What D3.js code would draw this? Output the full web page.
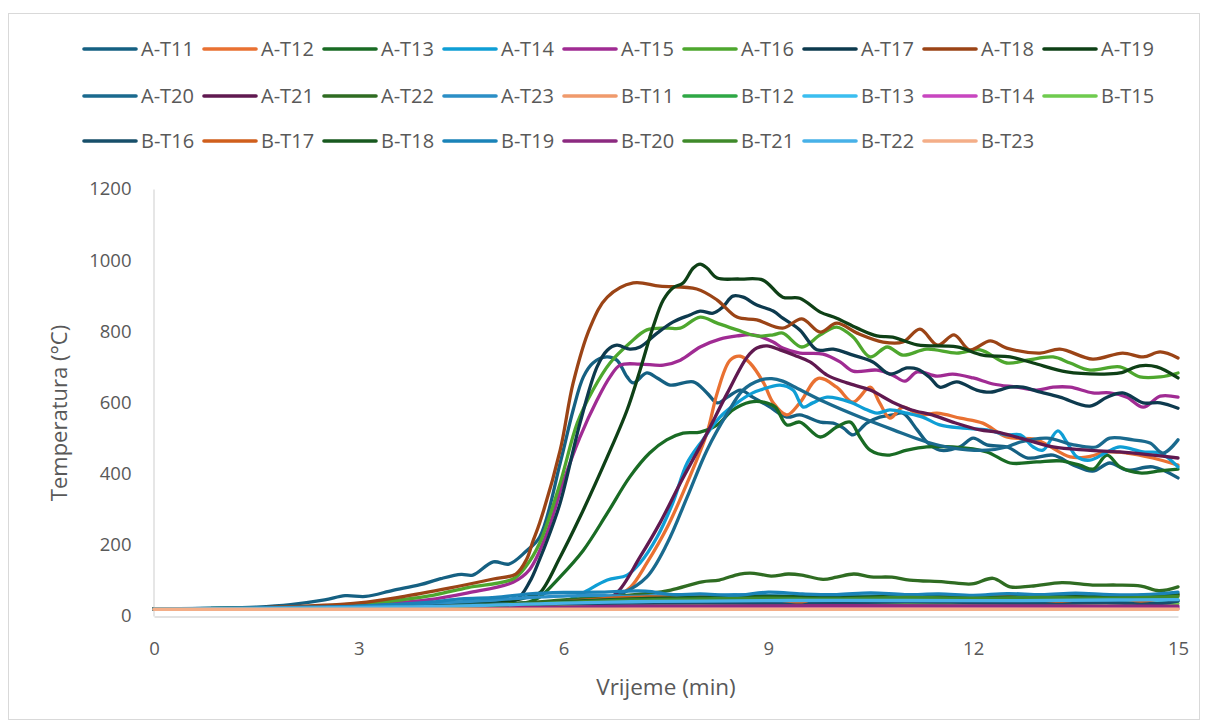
<!DOCTYPE html>
<html>
<head>
<meta charset="utf-8">
<script src="https://cdn.jsdelivr.net/npm/d3@7"></script>
<style>
  html, body { margin: 0; padding: 0; background: #fff; }
  svg { display: block; }
  text { font-family: "Open Sans", "Liberation Sans", Arial, sans-serif; fill: #595959; }
</style>
</head>
<body>
<svg id="chart" width="1208" height="727"></svg>
<script>
// ---------------- DATA (time in min, temperature in °C) ----------------
const seriesNames = ["A-T11","A-T12","A-T13","A-T14","A-T15","A-T16","A-T17","A-T18","A-T19",
  "A-T20","A-T21","A-T22","A-T23","B-T11","B-T12","B-T13","B-T14","B-T15",
  "B-T16","B-T17","B-T18","B-T19","B-T20","B-T21","B-T22","B-T23"];

const xTicks = [0, 3, 6, 9, 12, 15];
const yTicks = [0, 200, 400, 600, 800, 1000, 1200];

const A_T11 = [[0,20],[1,22],[1.5,25],[2,32],[2.5,45],[2.8,57],[3.1,55],[3.5,72],[3.9,88],[4.2,105],[4.5,117],[4.67,115],[4.97,152],[5.2,146],[5.45,182],[5.65,222],[5.95,430],[6.14,579],[6.29,672],[6.43,711],[6.63,728],[6.78,719],[6.93,672],[7.02,655],[7.22,683],[7.37,669],[7.56,649],[7.9,658],[8.1,627],[8.25,599],[8.4,615],[8.59,635],[8.77,615],[9.0,590],[9.27,559],[9.46,565],[9.76,545],[9.95,542],[10.1,528],[10.24,509],[10.44,542],[10.63,559],[10.82,565],[10.97,570],[11.18,523],[11.32,489],[11.51,466],[11.8,475],[12.0,500],[12.2,481],[12.5,475],[12.8,444],[13.17,452],[13.47,424],[13.75,407],[14.0,430],[14.25,410],[14.63,419],[15,388]];
const A_T12 = [[0,20],[2,22],[4,28],[5,33],[6,40],[6.5,45],[6.74,53],[6.98,81],[7.22,149],[7.52,250],[7.81,374],[8.1,514],[8.25,627],[8.44,719],[8.59,730],[8.73,711],[8.93,655],[9.07,599],[9.27,565],[9.46,599],[9.73,668],[10.0,643],[10.24,601],[10.49,643],[10.63,599],[10.78,556],[10.97,587],[11.22,565],[11.47,570],[11.81,556],[12.14,542],[12.49,503],[12.93,495],[13.42,447],[13.67,447],[13.96,461],[14.25,458],[14.63,444],[15,424]];
const A_T13 = [[0,20],[3,24],[5,32],[5.5,40],[5.65,53],[5.95,110],[6.29,185],[6.64,289],[6.97,391],[7.26,458],[7.51,495],[7.75,514],[8.0,517],[8.25,537],[8.48,579],[8.73,601],[8.93,601],[9.1,587],[9.27,537],[9.46,545],[9.76,503],[10.0,531],[10.2,545],[10.34,503],[10.49,466],[10.74,452],[11.03,466],[11.32,475],[11.7,475],[12.2,461],[12.54,430],[12.93,433],[13.27,436],[13.56,424],[13.76,413],[13.96,452],[14.15,419],[14.44,402],[14.74,408],[15,413]];
const A_T14 = [[0,20],[3,23],[5,30],[6,40],[6.28,65],[6.64,101],[6.93,115],[7.12,149],[7.37,222],[7.6,318],[7.81,430],[8.04,495],[8.29,559],[8.54,599],[8.77,627],[8.88,635],[9.17,649],[9.36,635],[9.51,587],[9.65,599],[9.86,615],[10.2,601],[10.39,584],[10.59,570],[10.78,579],[11.03,570],[11.26,559],[11.51,537],[11.85,528],[12.2,523],[12.49,509],[12.69,509],[12.88,475],[13.02,466],[13.24,520],[13.37,489],[13.52,447],[13.71,438],[13.96,461],[14.15,475],[14.49,461],[14.74,458],[15,419]];
const A_T15 = [[0,20],[2,23],[3,30],[4,45],[4.6,65],[5.26,95],[5.5,130],[5.75,230],[6.0,380],[6.24,503],[6.49,607],[6.68,672],[6.83,705],[7.12,708],[7.46,705],[7.71,719],[8.0,756],[8.29,778],[8.54,787],[8.78,790],[9.07,770],[9.21,753],[9.46,739],[9.8,736],[10.05,714],[10.24,688],[10.59,691],[10.82,677],[11.0,660],[11.18,686],[11.47,674],[11.7,680],[12.0,669],[12.29,652],[12.64,643],[12.93,635],[13.17,643],[13.42,643],[13.75,627],[14.0,627],[14.25,615],[14.49,587],[14.74,618],[15,615]];
const A_T16 = [[0,20],[2,25],[3,35],[3.6,45],[4.1,59],[4.6,80],[5.26,104],[5.45,140],[5.65,205],[5.95,374],[6.2,542],[6.43,635],[6.68,711],[6.97,767],[7.22,804],[7.52,809],[7.71,809],[8.0,840],[8.25,823],[8.54,804],[8.83,787],[9.07,790],[9.21,795],[9.49,756],[9.76,790],[10.0,812],[10.24,784],[10.49,728],[10.74,756],[10.97,733],[11.32,750],[11.76,739],[12.1,748],[12.49,711],[12.79,719],[13.17,728],[13.42,711],[13.71,691],[14.15,700],[14.44,672],[14.74,672],[15,683]];
const A_T17 = [[0,20],[2,22],[3,27],[4,31],[4.7,35],[5.3,45],[5.5,95],[5.65,160],[5.76,213],[5.95,318],[6.24,542],[6.49,700],[6.64,747],[6.78,761],[6.97,750],[7.12,756],[7.37,795],[7.6,826],[7.85,846],[8.0,857],[8.19,851],[8.33,868],[8.48,899],[8.63,896],[8.83,874],[9.07,857],[9.21,837],[9.46,804],[9.71,748],[9.95,750],[10.24,733],[10.53,714],[10.78,680],[11.03,697],[11.18,694],[11.37,669],[11.51,643],[11.76,658],[12.05,635],[12.25,629],[12.54,643],[12.73,643],[12.93,632],[13.27,615],[13.71,590],[13.96,615],[14.19,627],[14.49,599],[14.74,599],[15,584]];
const A_T18 = [[0,20],[1,21],[2,26],[3,37],[3.6,53],[4.34,79],[4.97,104],[5.3,118],[5.46,160],[5.55,210],[5.65,262],[5.95,466],[6.14,655],[6.39,812],[6.64,896],[7.02,936],[7.41,927],[7.95,919],[8.25,888],[8.54,840],[8.83,832],[9.21,809],[9.49,835],[9.76,798],[10.0,823],[10.3,795],[10.68,770],[10.97,770],[11.22,806],[11.48,761],[11.72,790],[11.95,748],[12.25,773],[12.49,753],[12.98,739],[13.27,750],[13.75,722],[14.19,739],[14.49,728],[14.74,742],[15,725]];
const A_T19 = [[0,20],[2,22],[3,25],[4,30],[4.5,33],[5,38],[5.3,45],[5.5,55],[5.65,65],[5.95,166],[6.24,278],[6.64,447],[6.93,579],[7.12,691],[7.31,812],[7.46,888],[7.6,922],[7.75,936],[7.9,978],[8.0,989],[8.1,978],[8.25,950],[8.58,947],[8.92,944],[9.21,896],[9.46,893],[9.76,854],[10.0,837],[10.3,809],[10.59,787],[10.82,784],[11.18,762],[11.76,756],[12.14,733],[12.54,728],[12.88,711],[13.37,686],[13.86,680],[14.15,683],[14.44,703],[14.69,700],[15,669]];
const A_T20 = [[0,20],[3,24],[5,33],[6,42],[6.6,52],[6.87,65],[7.22,110],[7.52,205],[7.81,334],[8.1,466],[8.4,570],[8.63,635],[8.88,663],[9.05,667],[9.21,660],[9.37,645],[9.85,599],[10.34,559],[10.83,523],[11.32,489],[11.7,472],[12.2,466],[12.49,475],[12.69,489],[13.08,500],[13.47,481],[13.8,475],[14.0,500],[14.34,495],[14.59,486],[14.78,458],[15,495]];
const A_T21 = [[0,20],[3,22],[5,26],[6,32],[6.5,38],[6.78,65],[7.12,166],[7.41,261],[7.71,374],[8.05,495],[8.4,627],[8.69,728],[8.83,753],[8.98,759],[9.17,748],[9.38,733],[9.61,714],[9.86,677],[10.15,655],[10.49,635],[10.82,601],[11.1,579],[11.4,565],[11.7,545],[12.1,523],[12.35,517],[12.69,500],[13.17,475],[13.67,466],[14.15,461],[14.63,452],[15,444]];
const A_T22 = [[0,20],[3,24],[5,32],[6,45],[6.7,55],[7.27,64],[7.57,73],[8.03,96],[8.28,101],[8.58,118],[8.79,120],[9.04,112],[9.29,118],[9.49,115],[9.8,103],[10.0,109],[10.25,118],[10.5,110],[10.81,109],[11.07,101],[11.57,96],[11.98,90],[12.29,106],[12.54,82],[12.85,84],[13.3,94],[13.75,87],[14.1,87],[14.46,84],[14.72,71],[15,82]];
const A_T23 = [[0,20],[2,23],[3,27],[4,35],[5,45],[5.5,52],[6,56],[6.5,58],[7,55],[7.5,58],[8,55],[8.5,60],[9,57],[10,55],[11,58],[12,55],[13,57],[14,55],[15,60]];
const B_T11 = [[0,20],[5,20],[10,21],[15,21]];
const B_T12 = [[0,20],[3,23],[5,28],[6,35],[6.5,42],[7,38],[7.5,40],[8,45],[9,42],[10,40],[11,43],[12,42],[13,45],[14,43],[15,45]];
const B_T13 = [[0,20],[4,25],[6,33],[7,37],[8,40],[9,38],[10,40],[11,38],[12,40],[13,42],[14,40],[15,42]];
const B_T14 = [[0,20],[5,21],[6,23],[8,24],[11,24],[15,24]];
const B_T15 = [[0,20],[4,23],[6,30],[8,33],[10,35],[12,34],[14,36],[15,35]];
const B_T16 = [[0,20],[3,24],[5,30],[6,35],[7,36],[8,38],[9,36],[10,37],[11,40],[12,38],[13,36],[14,38],[14.7,35],[15,42]];
const B_T17 = [[0,20],[3,24],[5,30],[6,40],[6.7,50],[7.27,54],[7.78,52],[8.28,54],[8.69,45],[9.04,47],[9.49,40],[9.76,54],[10.0,50],[10.41,45],[10.91,52],[11.26,44],[11.57,54],[12.03,54],[12.33,59],[12.74,50],[13.3,42],[13.75,50],[14.1,52],[14.46,42],[15,59]];
const B_T18 = [[0,20],[3,24],[5,30],[6,40],[7,48],[8,52],[9,55],[10,53],[11,55],[12,52],[13,55],[14,56],[15,62]];
const B_T19 = [[0,20],[2,24],[3,28],[4,38],[4.5,48],[5,52],[5.5,62],[6,66],[6.5,67],[7.2,70],[7.6,60],[8,62],[8.5,58],[9,67],[9.5,62],[10,60],[10.5,65],[11,60],[11.5,62],[12,58],[12.5,63],[13,60],[13.5,64],[14,60],[14.5,60],[15,67]];
const B_T20 = [[0,20],[4,22],[6,25],[7,28],[10,29],[15,28]];
const B_T21 = [[0,20],[4,25],[6,38],[7,45],[8,48],[9,50],[10,48],[11,52],[12,50],[13,52],[14,50],[15,55]];
const B_T22 = [[0,20],[4,26],[6,36],[7,40],[8,42],[10,44],[12,43],[14,45],[15,46]];
const B_T23 = [[0,19],[5,19],[10,19],[15,19]];

const seriesValues = [A_T11,A_T12,A_T13,A_T14,A_T15,A_T16,A_T17,A_T18,A_T19,
  A_T20,A_T21,A_T22,A_T23,B_T11,B_T12,B_T13,B_T14,B_T15,
  B_T16,B_T17,B_T18,B_T19,B_T20,B_T21,B_T22,B_T23];

const seriesColors = ["#156082","#E97132","#196B24","#0F9ED5","#A02B93","#4EA72E","#0D3A4E","#9B4416","#0E4016",
  "#1A6A8E","#601950","#2F6C22","#2B8FC6","#F09A6C","#2EA845","#3BBEF0","#C846C0","#6FCB4F",
  "#174F6A","#D05F1C","#18591F","#1A83B8","#8C2A80","#3F8A2A","#47B1E8","#F4AE88"];

// ---------------- LAYOUT ----------------
const svg = d3.select("#chart");
svg.append("rect").attr("x", 0).attr("y", 0).attr("width", 1208).attr("height", 727).attr("fill", "#fff");
svg.append("rect").attr("x", 8.5).attr("y", 13.5).attr("width", 1191).attr("height", 706)
  .attr("fill", "none").attr("stroke", "#d9d9d9").attr("stroke-width", 1);

const plot = { left: 154, right: 1178, top: 189, bottom: 616 };
const x = d3.scaleLinear().domain([0, 15]).range([plot.left, plot.right]);
const y = d3.scaleLinear().domain([0, 1200]).range([plot.bottom, plot.top]);

// axes
const yAxis = d3.axisLeft(y).tickValues(yTicks).tickFormat(d3.format("d")).tickSize(0).tickPadding(22);
const gy = svg.append("g").attr("transform", `translate(${plot.left - 0.5},0)`).call(yAxis);
gy.select(".domain").attr("stroke", "#d9d9d9").attr("stroke-width", 1.3);
gy.selectAll("text").attr("font-size", 18.5).style("fill", "#595959");

const xAxis = d3.axisBottom(x).tickValues(xTicks).tickFormat(d3.format("d")).tickSize(0).tickPadding(25);
const gx = svg.append("g").attr("transform", `translate(0,${plot.bottom + 0.5})`).call(xAxis);
gx.select(".domain").attr("stroke", "#d9d9d9").attr("stroke-width", 1.3);
gx.selectAll("text").attr("font-size", 18.5).style("fill", "#595959");

// lines
const line = d3.line()
  .x(d => x(d[0]))
  .y(d => y(d[1]))
  .curve(d3.curveCatmullRom.alpha(0.5));

const gLines = svg.append("g");
seriesValues.forEach((vals, i) => {
  gLines.append("path")
    .attr("d", line(vals))
    .attr("fill", "none")
    .attr("stroke", seriesColors[i])
    .attr("stroke-width", 3.3)
    .attr("stroke-linejoin", "round")
    .attr("stroke-linecap", "round");
});

// axis titles
svg.append("text").attr("x", 666).attr("y", 695).attr("text-anchor", "middle")
  .attr("font-size", 22.5).text("Vrijeme (min)");
svg.append("text").attr("transform", "translate(67,413) rotate(-90)").attr("text-anchor", "middle")
  .attr("font-size", 22).text("Temperatura (°C)");

// legend
const legendRows = [seriesNames.slice(0, 9), seriesNames.slice(9, 18), seriesNames.slice(18)];
const rowY = [49, 96, 141];
let idx = 0;
legendRows.forEach((row, r) => {
  row.forEach((name, c) => {
    const x0 = 84 + c * 120;
    const g = svg.append("g");
    g.append("line").attr("x1", x0).attr("x2", x0 + 52).attr("y1", rowY[r]).attr("y2", rowY[r])
      .attr("stroke", seriesColors[idx]).attr("stroke-width", 3.6).attr("stroke-linecap", "round");
    g.append("text").attr("x", x0 + 57).attr("y", rowY[r]).attr("dy", "0.36em")
      .attr("font-size", 20).text(name);
    idx++;
  });
});
</script>
</body>
</html>
